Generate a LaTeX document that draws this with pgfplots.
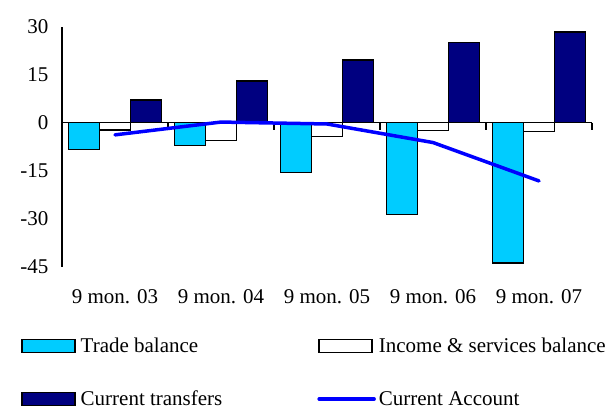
\documentclass[border=0pt]{standalone}
\usepackage{pgfplots}
\pgfplotsset{compat=1.18}
\usepackage{fontspec}
\setmainfont{Liberation Serif}

\definecolor{tradecyan}{RGB}{0,204,255}
\definecolor{navybar}{RGB}{0,0,128}
\newcommand{\cf}{\fontsize{21}{25}\selectfont}

\pgfplotsset{
  barleg/.style={legend image code/.code={\draw[##1] (0pt,-6.5pt) rectangle (53pt,6.5pt); \path (56pt,0pt);}},
  lineleg/.style={legend image code/.code={\draw[##1] (0pt,0pt) -- (55pt,0pt); \path (56pt,0pt);}},
}

\begin{document}
\begin{tikzpicture}
\begin{axis}[
    name=ax,
    scale only axis,
    width=530pt, height=240pt,
    xmin=0.5, xmax=5.5,
    ymin=-45, ymax=30,
    clip=false,
    axis y line*=left,
    axis x line*=bottom,
    x axis line style={draw=none},
    y axis line style={line width=1.5pt},
    xtick={1,2,3,4,5},
    xticklabels={9 mon. 03, 9 mon. 04, 9 mon. 05, 9 mon. 06, 9 mon. 07},
    ytick={-45,-30,-15,0,15,30},
    major tick length=0pt,
    tick style={draw=none},
    tick label style={font=\cf},
    /pgf/number format/assume math mode=true,
    yticklabel style={xshift=-10pt},
    xticklabel style={yshift=-19pt},
    legend columns=2,
    legend cell align=left,
    legend style={draw=none, fill=none, at={(0,0)}, anchor=north west,
      xshift=-41pt, yshift=-69pt, font=\cf, row sep=33pt, inner sep=0pt,
      /tikz/every even column/.append style={column sep=93pt}},
]

\addplot[ybar, bar width=31pt, bar shift=-31pt, fill=tradecyan, draw=black, line width=1.5pt, barleg]
  coordinates {(1,-8.3) (2,-7.1) (3,-15.5) (4,-28.7) (5,-43.9)};
\addlegendentry{Trade balance}

\addplot[ybar, bar width=31pt, bar shift=0pt, fill=white, draw=black, line width=1.5pt, barleg]
  coordinates {(1,-2.3) (2,-5.5) (3,-4.3) (4,-2.4) (5,-2.7)};
\addlegendentry{Income \& services balance}

\addplot[ybar, bar width=31pt, bar shift=31pt, fill=navybar, draw=black, line width=1.5pt, barleg]
  coordinates {(1,7.1) (2,13.0) (3,19.6) (4,25.0) (5,28.3)};
\addlegendentry{Current transfers}

% zero line with group separators
\draw[line width=1.5pt] (axis cs:0.5,0) -- (axis cs:5.5,0);
\pgfplotsinvokeforeach{1.5,2.5,3.5,4.5,5.5}{
  \draw[line width=1.5pt] (axis cs:#1,0) -- ++(0pt,-7pt);
}

\addplot[blue, line width=3.5pt, line cap=round, sharp plot, mark=none, lineleg]
  coordinates {(1,-3.8) (2,0.2) (3,-0.4) (4,-6.2) (5,-18.2)};
\addlegendentry{Current Account}

\end{axis}
\pgfresetboundingbox
\path[use as bounding box] ([shift={(-62pt,-142.3pt)}]ax.south west) rectangle ([shift={(15pt,26.7pt)}]ax.north east);
\end{tikzpicture}
\end{document}
